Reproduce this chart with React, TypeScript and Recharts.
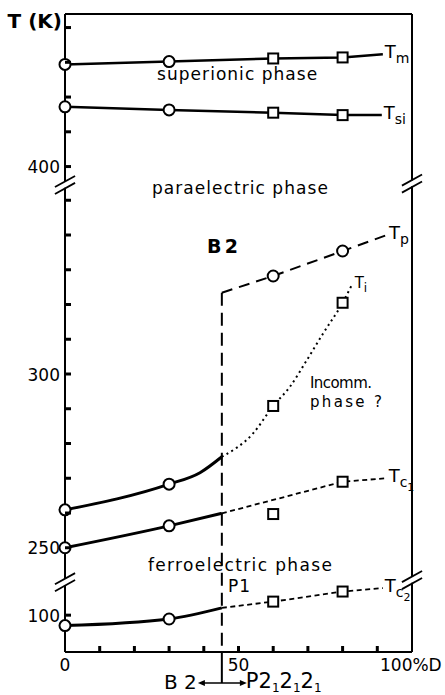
import React from "react"
import { LineChart, Line, XAxis, YAxis, ReferenceLine, ReferenceDot } from "recharts"

const FONT = "DejaVu Sans, sans-serif"

// deuteration (%D) on x, temperature (K) on y
const tmX = [0, 30, 60, 80, 91.6]
const tmT = [429.4, 430.2, 431.1, 431.4, 432.3]
const tmMark = ["o", "o", "s", "s", ""]

const tsiX = [0, 30, 60, 80, 91.3]
const tsiT = [417.2, 416.3, 415.5, 414.8, 414.8]
const tsiMark = ["o", "o", "s", "s", ""]

const tpX = [45.2, 60, 80, 92.8]
const tpT = [323.4, 328.2, 335.4, 340]
const tpMark = ["", "o", "o", ""]

// Ti: solid on the B2 side, dotted beyond the boundary
const tiLowX = [0, 30, 38.9, 45.2]
const tiLowT = [260.9, 268.3, 271.6, 276.2]
const tiLowMark = ["o", "o", "", ""]
const tiHighX = [45.2, 54.2, 60, 64.8, 69.7, 74.4, 80, 82.9]
const tiHighT = [276.2, 282.9, 290.8, 296.3, 304.0, 311.7, 320.5, 326.1]
const tiHighMark = ["", "", "s", "", "", "", "s", ""]

const tc1LowX = [0, 30, 45.2]
const tc1LowT = [250, 256.3, 259.9]
const tc1LowMark = ["o", "o", ""]
const tc1HighX = [45.2, 80, 92.7]
const tc1HighT = [259.9, 269, 270]
const tc1HighMark = ["", "s", ""]
const tc1StrayX = [60]
const tc1StrayT = [259.7]

const tc2LowX = [0, 30, 45.2]
const tc2LowT = [97, 98.9, 102.1]
const tc2LowMark = ["o", "o", ""]
const tc2HighX = [45.2, 60, 80, 91.6]
const tc2HighT = [102.1, 103.9, 106.8, 107.8]
const tc2HighMark = ["", "s", "s", ""]

const boundaryX = 45.2
const boundaryTopT = 323.4

const tTicks = [100, 250, 260, 270, 280, 290, 300, 310, 320, 330, 340, 350, 400, 410, 420, 430, 440]
const tickText: Record<number, string> = { 100: "100", 250: "250", 300: "300", 400: "400", 440: "T (K)" }
const xTicks = [0, 10, 20, 30, 40, 50, 60, 70, 80, 90, 100]
const xTickText: Record<number, string> = { 0: "0", 50: "50", 100: "100%D" }

// broken T axis: each band is shifted so the three bands share one linear scale
const toV = (t: number) => (t < 180 ? t - 89.4 : t < 380 ? t - 220 : t - 260.3)
const vTicks = tTicks.map(toV)
const V_MAX = 183.6

const rows = (xs: number[], ts: number[], ms: string[] = []) =>
  xs.map((x, i) => ({ x, v: toV(ts[i]), m: ms[i] ?? "" }))

const Marker = (p: any) => {
  const { cx, cy, payload, index } = p
  if (payload?.m === "o")
    return <circle key={`o${index}`} cx={cx} cy={cy} r={5.5} fill="#fff" stroke="#000" strokeWidth={2} />
  if (payload?.m === "s")
    return <rect key={`s${index}`} x={cx - 5} y={cy - 5} width={10} height={10} fill="#fff" stroke="#000" strokeWidth={2} />
  return <g key={`n${index}`} />
}

const YTickLeft = ({ x, y, payload }: any) => {
  const t = tTicks[vTicks.indexOf(payload.value)]
  const label = tickText[t]
  const big = t === 440
  return (
    <g>
      <line x1={x} x2={x + 6} y1={y} y2={y} stroke="#000" strokeWidth={3} />
      {label && (
        <text x={x - (big ? 3 : 5)} y={big ? y : y + 6.5} textAnchor="end" fontFamily={FONT}
          fontSize={big ? 20 : 17} fontWeight={big ? 700 : 400} fill="#000">
          {label}
        </text>
      )}
    </g>
  )
}

const YTickRight = ({ x, y }: any) => <line x1={x - 6} x2={x} y1={y} y2={y} stroke="#000" strokeWidth={3} />

const XTick = ({ x, y, payload }: any) => {
  const val = payload.value
  const label = xTickText[val]
  return (
    <g>
      {val > 0 && val < 100 && <line x1={x} x2={x} y1={y} y2={y - 6} stroke="#000" strokeWidth={3} />}
      {label && (
        <text x={val === 100 ? x - 32 : x} y={y + 19} textAnchor={val === 100 ? "start" : "middle"}
          fontFamily={FONT} fontSize={17} fill="#000">
          {label}
        </text>
      )}
    </g>
  )
}

const TLabel = (sub: string, sub2?: string, small?: boolean) => (p: any) => (
  <text x={p.cx + 2} y={p.cy + (small ? 5 : 4)} fontFamily={FONT} fontSize={small ? 15 : 18} fill="#000">
    T
    <tspan fill="#000" fontSize={small ? 12 : 14} dy={small ? 4 : 5}>{sub}</tspan>
    {sub2 && <tspan fill="#000" fontSize={11} dy={4}>{sub2}</tspan>}
  </text>
)

const Note = (text: string, anchor: "start" | "middle", size: number, len?: number, bold?: boolean) => (p: any) => (
  <text x={p.cx} y={p.cy} textAnchor={anchor} fontFamily={FONT} fontSize={size} fontWeight={bold ? 700 : 400}
    fill="#000" textLength={len} lengthAdjust={len ? "spacing" : undefined}>
    {text}
  </text>
)

const BoundaryNote = (p: any) => {
  const { cx, cy } = p
  const ay = cy + 31
  return (
    <g>
      <line x1={cx} x2={cx} y1={cy} y2={ay} stroke="#000" strokeWidth={2} />
      <line x1={cx - 18} x2={cx + 19} y1={ay} y2={ay} stroke="#000" strokeWidth={1.5} />
      <path d={`M${cx - 24},${ay} l7,-3 l0,6 z`} fill="#000" />
      <path d={`M${cx + 25},${ay} l-7,-3 l0,6 z`} fill="#000" />
      <text x={cx - 25} y={ay + 6} textAnchor="end" fontFamily={FONT} fontSize={20} fill="#000">B 2</text>
      <text x={cx + 24} y={ay + 5} fontFamily={FONT} fontSize={21} fill="#000">
        P2<tspan fill="#000" fontSize={12} dy={3.5}>1</tspan>
        <tspan fill="#000" dy={-3.5}>2</tspan><tspan fill="#000" fontSize={12} dy={3.5}>1</tspan>
        <tspan fill="#000" dy={-3.5}>2</tspan><tspan fill="#000" fontSize={12} dy={3.5}>1</tspan>
      </text>
    </g>
  )
}

const seg = (x1: number, y1: number, x2: number, y2: number, w = 2) => (
  <ReferenceLine key={`${x1}-${y1}-${x2}-${y2}`} segment={[{ x: x1, y: y1 }, { x: x2, y: y2 }]}
    stroke="#000" strokeWidth={w} ifOverflow="visible" />
)

const breakMark = (x0: number, v0: number) => [
  seg(x0 - 2.9, v0 - 2.6, x0 + 2.9, v0 + 0.6, 1.8),
  seg(x0 - 2.9, v0 - 0.6, x0 + 2.9, v0 + 2.6, 1.8),
]

export default function App() {
  return (
    <div style={{ position: "absolute", left: 0, top: 0, background: "#fff" }}>
      <LineChart width={445} height={695} margin={{ top: 14, right: 33, bottom: 0, left: 0 }}>
        <XAxis dataKey="x" type="number" domain={[0, 100]} ticks={xTicks} interval={0} height={43}
          tickSize={0} tickMargin={0} tick={<XTick />} axisLine={{ stroke: "#000", strokeWidth: 2 }} />
        <YAxis type="number" domain={[0, V_MAX]} ticks={vTicks} interval={0} width={65}
          tickSize={0} tickMargin={0} tick={<YTickLeft />} axisLine={false} />
        <YAxis yAxisId="r" orientation="right" type="number" domain={[0, V_MAX]} ticks={vTicks} interval={0}
          width={0} tickSize={0} tickMargin={0} tick={<YTickRight />} axisLine={false} />

        {/* frame with breaks */}
        {seg(0, 0, 0, 19.3)}
        {seg(0, 21.0, 0, 133.6)}
        {seg(0, 135.3, 0, V_MAX)}
        {seg(100, 0, 100, 19.9)}
        {seg(100, 21.6, 100, 134.0)}
        {seg(100, 135.7, 100, V_MAX)}
        {seg(0, V_MAX, 100, V_MAX)}
        {breakMark(0, 20.1)}
        {breakMark(0, 134.4)}
        {breakMark(100, 20.7)}
        {breakMark(100, 134.8)}

        <ReferenceLine segment={[{ x: boundaryX, y: toV(boundaryTopT) }, { x: boundaryX, y: 0 }]}
          stroke="#000" strokeWidth={2} strokeDasharray="13 7" ifOverflow="visible" />

        <Line data={rows(tmX, tmT, tmMark)} dataKey="v" type="linear" stroke="#000" strokeWidth={2.5}
          dot={Marker} activeDot={false} isAnimationActive={false} />
        <Line data={rows(tsiX, tsiT, tsiMark)} dataKey="v" type="linear" stroke="#000" strokeWidth={2.5}
          dot={Marker} activeDot={false} isAnimationActive={false} />
        <Line data={rows(tpX, tpT, tpMark)} dataKey="v" type="linear" stroke="#000" strokeWidth={2}
          strokeDasharray="11 7" dot={Marker} activeDot={false} isAnimationActive={false} />
        <Line data={rows(tiLowX, tiLowT, tiLowMark)} dataKey="v" type="monotone" stroke="#000" strokeWidth={3}
          dot={Marker} activeDot={false} isAnimationActive={false} />
        <Line data={rows(tiHighX, tiHighT, tiHighMark)} dataKey="v" type="monotone" stroke="#000" strokeWidth={2}
          strokeDasharray="2 3.5" dot={Marker} activeDot={false} isAnimationActive={false} />
        <Line data={rows(tc1LowX, tc1LowT, tc1LowMark)} dataKey="v" type="monotone" stroke="#000" strokeWidth={3}
          dot={Marker} activeDot={false} isAnimationActive={false} />
        <Line data={rows(tc1HighX, tc1HighT, tc1HighMark)} dataKey="v" type="linear" stroke="#000" strokeWidth={1.8}
          strokeDasharray="5 3.5" dot={Marker} activeDot={false} isAnimationActive={false} />
        <Line data={rows(tc1StrayX, tc1StrayT, ["s"])} dataKey="v" stroke="none"
          dot={Marker} activeDot={false} isAnimationActive={false} />
        <Line data={rows(tc2LowX, tc2LowT, tc2LowMark)} dataKey="v" type="monotone" stroke="#000" strokeWidth={3}
          dot={Marker} activeDot={false} isAnimationActive={false} />
        <Line data={rows(tc2HighX, tc2HighT, tc2HighMark)} dataKey="v" type="linear" stroke="#000" strokeWidth={1.8}
          strokeDasharray="5 3.5" dot={Marker} activeDot={false} isAnimationActive={false} />

        {/* curve names */}
        <ReferenceDot x={tmX[4]} y={toV(tmT[4])} r={0} ifOverflow="visible" shape={TLabel("m")} />
        <ReferenceDot x={tsiX[4]} y={toV(tsiT[4])} r={0} ifOverflow="visible" shape={TLabel("si")} />
        <ReferenceDot x={tpX[3]} y={toV(tpT[3])} r={0} ifOverflow="visible" shape={TLabel("p")} />
        <ReferenceDot x={tiHighX[7]} y={toV(tiHighT[7])} r={0} ifOverflow="visible" shape={TLabel("i", undefined, true)} />
        <ReferenceDot x={tc1HighX[2]} y={toV(tc1HighT[2])} r={0} ifOverflow="visible" shape={TLabel("c", "1")} />
        <ReferenceDot x={tc2HighX[3]} y={toV(tc2HighT[3])} r={0} ifOverflow="visible" shape={TLabel("c", "2")} />

        {/* phase names */}
        <ReferenceDot x={49.6} y={164.6} r={0} ifOverflow="visible" shape={Note("superionic phase", "middle", 17, 160)} />
        <ReferenceDot x={50.4} y={131.8} r={0} ifOverflow="visible" shape={Note("paraelectric phase", "middle", 17, 176)} />
        <ReferenceDot x={40.9} y={114.8} r={0} ifOverflow="visible" shape={Note("B 2", "start", 19, 31, true)} />
        <ReferenceDot x={70.6} y={76.0} r={0} ifOverflow="visible" shape={Note("Incomm.", "start", 15, 62)} />
        <ReferenceDot x={70.6} y={70.5} r={0} ifOverflow="visible" shape={Note("phase ?", "start", 15, 72)} />
        <ReferenceDot x={50.4} y={23.3} r={0} ifOverflow="visible" shape={Note("ferroelectric phase", "middle", 17, 184)} />
        <ReferenceDot x={47.0} y={17.3} r={0} ifOverflow="visible" shape={Note("P1", "start", 17, 22)} />

        <ReferenceDot x={boundaryX} y={0} r={0} ifOverflow="visible" shape={BoundaryNote} />
      </LineChart>
    </div>
  )
}
